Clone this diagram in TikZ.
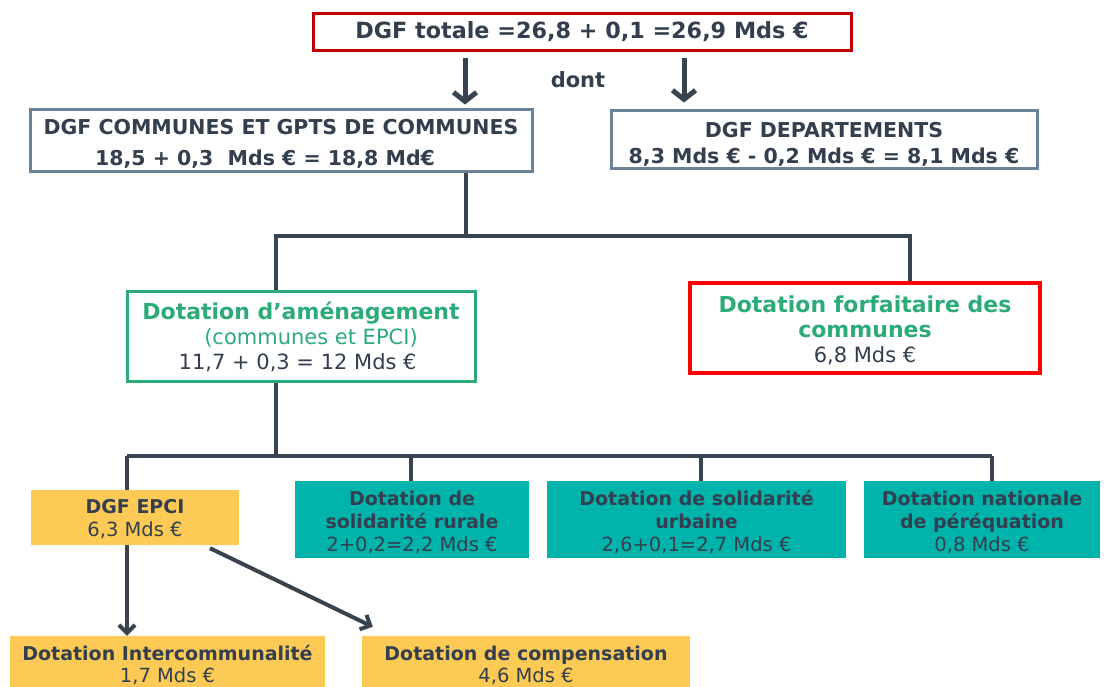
\documentclass[tikz,border=0pt]{standalone}
\usepackage{fontspec}
\setmainfont{DejaVu Sans}
\usetikzlibrary{arrows.meta}

\definecolor{ink}{HTML}{333F4F}
\definecolor{wire}{HTML}{37434F}
\definecolor{darkred}{HTML}{C00000}
\definecolor{steel}{HTML}{6A8399}
\definecolor{dgreen}{HTML}{2BAA7A}
\definecolor{brightred}{HTML}{FF0000}
\definecolor{gold}{HTML}{FDCA55}
\definecolor{teal}{HTML}{00B3AB}

\newcommand{\headA}[1]{\textbf{\fontsize{22}{25}\selectfont\color{dgreen}#1}}
\newcommand{\headB}[1]{\textbf{\fontsize{19}{23}\selectfont #1}}
\newcommand{\lift}[1]{\rule{0pt}{#1}}

\begin{document}
\begin{tikzpicture}[x=1pt,y=-1pt,
  box/.style={draw,inner sep=0pt,align=center,text=ink},
  totalbox/.style={box,draw=darkred,line width=3pt},
  mainbox/.style={box,draw=steel,line width=3pt},
  amenbox/.style={box,draw=dgreen,line width=3pt},
  forfbox/.style={box,draw=brightred,line width=4pt},
  tealbox/.style={box,draw=none,fill=teal,minimum height=77pt},
  goldbox/.style={box,draw=none,fill=gold},
  link/.style={draw=wire,line width=3.3pt},
  bigarrow/.style={draw=wire,line width=5pt,-{Straight Barb[length=9pt,width=23pt]}},
  arrow/.style={draw=wire,line width=4pt,-{Straight Barb[length=8pt,width=16pt]}}]
  \fill[white] (0,0) rectangle (1104,686);
  \useasboundingbox (0,0) rectangle (1104,686);
  \clip (0,0) rectangle (1104,686);

  % top level
  \node[totalbox,minimum width=538pt,minimum height=37pt,font=\fontsize{22.3}{25}\selectfont\bfseries]
    (total) at (582,31.5) {DGF totale =26,8 + 0,1 =26,9 Mds €};
  \node[text=ink,font=\fontsize{21}{24}\selectfont\bfseries] (dont) at (578,80) {dont};
  \node[mainbox,minimum width=502pt,minimum height=62pt,font=\fontsize{20.5}{31}\selectfont\bfseries]
    (comm) at (281,140) {\lift{22pt}DGF COMMUNES ET GPTS DE COMMUNES\\18,5 + 0,3 \ Mds € = 18,8 Md€\hspace*{32pt}};
  \node[mainbox,minimum width=426pt,minimum height=58pt,font=\fontsize{20.5}{26}\selectfont\bfseries]
    (dep) at (824,139) {\lift{26pt}DGF DEPARTEMENTS\\8,3 Mds € - 0,2 Mds € = 8,1 Mds €};

  % second level
  \node[amenbox,minimum width=348pt,minimum height=90pt,font=\fontsize{21}{25}\selectfont]
    (amen) at (301,336) {\lift{19pt}\headA{Dotation d’aménagement}\\
    \textcolor{dgreen}{\ \ \ (communes et EPCI)}\\11,7 + 0,3 = 12 Mds € \ };
  \node[forfbox,minimum width=350pt,minimum height=90pt,font=\fontsize{21}{25}\selectfont]
    (forf) at (865,328) {\lift{21pt}\headA{Dotation forfaitaire des}\\\headA{communes}\\6,8 Mds €};

  % third level
  \node[goldbox,minimum width=208pt,minimum height=55pt,font=\fontsize{19.5}{23}\selectfont]
    (epci) at (135,517.5) {\lift{18pt}\headB{DGF EPCI}\\6,3 Mds €};
  \node[tealbox,minimum width=234pt,font=\fontsize{19.5}{23}\selectfont]
    (rur) at (412,519.5) {\lift{20pt}\headB{Dotation de}\\\headB{solidarité rurale}\\2+0,2=2,2 Mds €};
  \node[tealbox,minimum width=299pt,font=\fontsize{19.5}{23}\selectfont]
    (urb) at (696.5,519.5) {\lift{20pt}\headB{Dotation de solidarité}\\\headB{urbaine}\\2,6+0,1=2,7 Mds €};
  \node[tealbox,minimum width=236pt,font=\fontsize{19.5}{23}\selectfont]
    (per) at (982,519.5) {\lift{20pt}\headB{Dotation nationale}\\\headB{de péréquation}\\0,8 Mds €};

  % EPCI split
  \node[goldbox,minimum width=315pt,minimum height=58pt,font=\fontsize{19.5}{22}\selectfont]
    (inter) at (167.5,665) {\headB{Dotation Intercommunalité}\\1,7 Mds €};
  \node[goldbox,minimum width=328pt,minimum height=58pt,font=\fontsize{19.5}{22}\selectfont]
    (comp) at (526,665) {\headB{Dotation de compensation}\\4,6 Mds €};

  % connectors
  \coordinate (arrL) at (465,57);
  \coordinate (arrR) at (684,57);
  \draw[bigarrow,shorten <=6pt,shorten >=3pt] (total.south -| arrL) -- (comm.north -| arrL);
  \draw[bigarrow,shorten <=6pt,shorten >=6pt] (total.south -| arrR) -- (dep.north -| arrR);

  \coordinate (busA) at (466,236);
  \coordinate (amenin) at (276,236);
  \coordinate (forfin) at (910,236);
  \draw[link] (comm.south -| busA) -- (busA);
  \draw[link] (amen.north -| amenin) -- (amenin) -- (forfin) -- (forf.north -| forfin);

  \coordinate (busB) at (276,456);
  \coordinate (epciin) at (127,456);
  \coordinate (rurin) at (411,456);
  \coordinate (urbin) at (701,456);
  \coordinate (perin) at (992,456);
  \draw[link] (amen.south -| busB) -- (busB);
  \draw[link] (epciin) -- (perin);
  \draw[link] (epciin) -- (epci.north -| epciin);
  \draw[link] (rurin) -- (rur.north -| rurin);
  \draw[link] (urbin) -- (urb.north -| urbin);
  \draw[link] (perin) -- (per.north -| perin);

  \draw[arrow,shorten >=0pt] (epci.south -| epciin) -- (inter.north -| epciin);
  \draw[arrow] ([xshift=75pt,yshift=-3pt]epci.south) -- ([xshift=11pt,yshift=9pt]comp.north west);
\end{tikzpicture}
\end{document}
